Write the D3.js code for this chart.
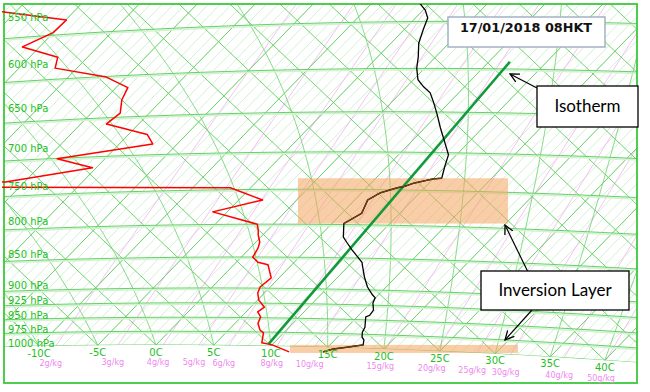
<!DOCTYPE html>
<html><head><meta charset="utf-8">
<script src="https://cdn.jsdelivr.net/npm/d3@7"></script>
<style>body{margin:0;background:#fff}svg{display:block}</style>
</head><body>
<svg id="c" width="650" height="392"></svg>
<script>
// ---------------- data ----------------
const isobarLevels = [550, 600, 650, 700, 750, 800, 850, 900, 925, 950, 975, 1000];
const tempTicks = [-10, -5, 0, 5, 10, 15, 20, 25, 30, 35, 40];
const mixRatios = [2, 3, 4, 5, 6, 8, 10, 15, 20, 25, 30, 40, 50];
const tempP = [532, 542, 550, 562, 576, 591, 603, 616, 624, 631, 643, 657, 673, 692, 707, 723, 738, 739, 742, 745, 749, 751, 758, 768, 787, 802, 822, 830, 842, 853, 861, 869, 885, 901, 914, 919, 928, 940, 949, 952, 970, 979, 988, 993, 1002, 1006, 1010, 1015];
const tempT = [-6.2, -4.6, -3.7, -3.1, -2.35, -1.2, -0.4, 0.7, 1.8, 2.9, 4.1, 5.4, 6.8, 8.5, 9.8, 10.5, 11.2, 10.5, 9.8, 9.1, 8.6, 8.1, 7.0, 6.5, 7.1, 6.4, 7.5, 8.25, 9.4, 10.5, 11.3, 11.8, 12.8, 13.9, 15.0, 15.5, 15.75, 16.4, 16.5, 16.3, 17.1, 17.3, 17.7, 18.1, 18.45, 17.3, 16.1, 15.5];
const dewP = [541, 552, 565, 580, 591, 603, 613, 625, 639, 655, 668, 681, 693, 712, 724, 743, 749, 751, 768, 785, 803, 812, 819, 830, 839, 853, 861, 865, 886, 901, 911, 923, 935, 943, 952, 963, 975, 980, 998, 1002, 1015];
const dewT = [-44.1, -35.5, -35.6, -37.1, -33.1, -32.4, -27.1, -24.3, -23.8, -22.8, -23.1, -18.6, -17.3, -24.5, -20.6, -27.1, -60, -6.7, -2.8, -6.2, -1.2, -0.6, -0.2, 0.55, 0.9, 1.2, 2.1, 3.2, 4.6, 4.4, 4.7, 5.4, 6.5, 6.3, 7.0, 7.3, 8.05, 8.6, 9.3, 10.4, 12.5];
const inversionTop = [738, 1002];
const inversionBase = [802, 1017];
const isothermAnnotT = [10, 7.3];
const isothermAnnotP = [1000, 596];
const titleText = "17/01/2018 08HKT";

// ---------------- layout ----------------
const frame = {x0: 4, y0: 4, x1: 637, y1: 383};
const svg = d3.select("#c");

// tephigram background projection (theta-like coordinate)
const KAP = 0.346;
const TX0 = 156, TY0 = 345, TA = 6.03, TB = 1519, TD = 5.73, TE = -1565;
const tephTL = (T, L) => [TX0 + TA * T + TB * L, TY0 + TD * T + TE * L];
const Lof = (T, p) => Math.log((T + 273.15) / 273.15) + KAP * Math.log(1000 / p);
const teph = (T, p) => tephTL(T, Lof(T, p));

// data projection: log-p vertical with skewed temperature
const xT = d3.scaleLinear().domain([-10, 40]).range([42.7, 607.7]);
const yP = d3.scaleLog().domain([1000, 550]).range([343.8, 18.0]);
const SKEW = 525 / 545;
const proj = (T, p) => [xT(T) + SKEW * (yP(1000) - yP(p)), yP(p)];

const line = d3.line();
const defs = svg.append("defs");
defs.append("clipPath").attr("id", "frameClip").append("rect")
  .attr("x", frame.x0).attr("y", frame.y0).attr("width", frame.x1 - frame.x0).attr("height", frame.y1 - frame.y0);
defs.append("clipPath").attr("id", "dataClip").append("rect")
  .attr("x", 2).attr("y", frame.y0).attr("width", 636).attr("height", frame.y1 - frame.y0);
const basePoly = [[-100, -100], [800, -100]];
for (let T = 60; T >= -30; T -= 1) basePoly.push(teph(T, 1000));
defs.append("clipPath").attr("id", "gridClip").append("path").attr("d", line(basePoly) + "Z");

const gOuter = svg.append("g").attr("clip-path", "url(#frameClip)");
const grid = gOuter.append("g").attr("clip-path", "url(#gridClip)");

// 1-degree isotherm hatch
for (let T = -50; T <= 50; T++) {
  const L0 = Math.log((T + 273.15) / 273.15);
  grid.append("path").attr("d", line([tephTL(T, L0 - 0.05), tephTL(T, L0 + 0.6)]))
    .attr("stroke", "#bdebbd").attr("stroke-width", 0.7).attr("fill", "none");
}
// mixing ratio lines
const tdOf = (w, p) => { const e = w * p / (622 + w); const l = Math.log(e / 6.112); return 243.5 * l / (17.67 - l); };
mixRatios.forEach(w => {
  const pts = [];
  for (let p = 1040; p >= 380; p -= 10) pts.push(teph(tdOf(w, p), p));
  grid.append("path").attr("d", line(pts)).attr("stroke", "#f2b2f2").attr("stroke-width", 0.8).attr("fill", "none");
});
// 5-degree isotherms
for (let T = -50; T <= 50; T += 5) {
  const L0 = Math.log((T + 273.15) / 273.15);
  grid.append("path").attr("d", line([tephTL(T, L0 - 0.05), tephTL(T, L0 + 0.6)]))
    .attr("stroke", "#5ccf5c").attr("stroke-width", 0.9).attr("fill", "none");
}
// dry adiabats
for (let T0 = -20; T0 <= 95; T0 += 5) {
  const L = Math.log((T0 + 273.15) / 273.15);
  grid.append("path").attr("d", line([tephTL(-120, L), tephTL(T0 + 10, L)]))
    .attr("stroke", "#5ccf5c").attr("stroke-width", 0.9).attr("fill", "none");
}
// saturated adiabats
function dTdlnp(TK, p) {
  const Tc = TK - 273.15;
  const es = 6.112 * Math.exp(17.67 * Tc / (Tc + 243.5));
  const rs = 0.622 * es / (p - es);
  const Lv = 2.501e6, cp = 1005.7, Rd = 287.04;
  return (KAP * TK + Lv * rs / cp) / (1 + Lv * Lv * rs * 0.622 / (cp * Rd * TK * TK));
}
for (let T0 = -10; T0 <= 45; T0 += 5) {
  const pts = [];
  let TK = T0 + 273.15, lnp = Math.log(1000);
  const h = -0.004;
  while (lnp > Math.log(380)) {
    pts.push(teph(TK - 273.15, Math.exp(lnp)));
    const k1 = dTdlnp(TK, Math.exp(lnp));
    const k2 = dTdlnp(TK + h * k1 / 2, Math.exp(lnp + h / 2));
    TK += h * k2; lnp += h;
  }
  grid.append("path").attr("d", line(pts)).attr("stroke", "#74d674").attr("stroke-width", 0.9).attr("fill", "none");
}
// isobars
isobarLevels.forEach(p => {
  const pts = [];
  for (let T = -70; T <= 70; T += 1) pts.push(teph(T, p));
  grid.append("path").attr("d", line(pts)).attr("stroke", "#d3f2d3").attr("stroke-width", 1.6)
    .attr("fill", "none").attr("transform", "translate(0,1.5)");
  grid.append("path").attr("d", line(pts)).attr("stroke", "#66cf66").attr("stroke-width", 1)
    .attr("fill", "none");
});

// inversion boxes
const boxX = [[298, 508], [290, 518]];
inversionTop.forEach((pt, i) => {
  gOuter.append("rect").attr("x", boxX[i][0]).attr("width", boxX[i][1] - boxX[i][0])
    .attr("y", yP(pt)).attr("height", yP(inversionBase[i]) - yP(pt))
    .attr("fill", "#f4a460").attr("fill-opacity", 0.55);
});

// frame
svg.append("rect").attr("x", frame.x0).attr("y", frame.y0).attr("width", frame.x1 - frame.x0).attr("height", frame.y1 - frame.y0)
  .attr("fill", "none").attr("stroke", "#3cc83c").attr("stroke-width", 1.8);

// data
const gData = svg.append("g").attr("clip-path", "url(#dataClip)");
gData.append("path").attr("d", line(isothermAnnotT.map((t, i) => proj(t, isothermAnnotP[i]))))
  .attr("stroke", "#109a3c").attr("stroke-width", 2.6).attr("fill", "none");
gData.append("path").attr("d", line(dewT.map((t, i) => proj(t, dewP[i]))))
  .attr("stroke", "#ff0000").attr("stroke-width", 1.5).attr("fill", "none").attr("stroke-linejoin", "round");
const tempPts = tempT.map((t, i) => ({t, p: tempP[i]}));
gData.append("path").attr("d", line(tempPts.map(d => proj(d.t, d.p))))
  .attr("stroke", "#000").attr("stroke-width", 1.3).attr("fill", "none");
inversionTop.forEach((pt, i) => {
  const seg = tempPts.filter(d => d.p >= pt && d.p <= inversionBase[i]);
  gData.append("path").attr("d", line(seg.map(d => proj(d.t, d.p))))
    .attr("stroke", "#6e3d12").attr("stroke-width", 1.4).attr("fill", "none");
});

// axis labels
const font = "'DejaVu Sans', Verdana, sans-serif";
isobarLevels.forEach(p => {
  svg.append("text").attr("x", 8).attr("y", yP(p) + 3).text(p + " hPa")
    .attr("font-family", font).attr("font-size", 10).attr("fill", "#1fbf1f");
});
tempTicks.forEach(T => {
  const [x, y] = teph(T, 1000);
  svg.append("text").attr("x", x).attr("y", y + 7).attr("dy", "0.35em").attr("text-anchor", "middle")
    .text(T + "C").attr("font-family", font).attr("font-size", 10).attr("fill", "#1fbf1f");
});
mixRatios.forEach(w => {
  const [x, y] = teph(tdOf(w, 1000), 1000);
  svg.append("text").attr("x", x - 5).attr("y", y + 17.5).attr("dy", "0.35em").attr("text-anchor", "middle")
    .text(w + "g/kg").attr("font-family", font).attr("font-size", 8).attr("fill", "#ee88ee");
});

// annotations
defs.append("marker").attr("id", "arr").attr("viewBox", "0 0 10 10").attr("refX", 9).attr("refY", 5)
  .attr("markerWidth", 10).attr("markerHeight", 10).attr("markerUnits", "userSpaceOnUse").attr("orient", "auto")
  .append("path").attr("d", "M0,0.5 L9,5 L0,9.5").attr("fill", "none").attr("stroke", "#000").attr("stroke-width", 1.3);
const arrows = [[[537, 88], [510, 74]], [[528, 272], [505, 225]], [[532, 310], [505, 340]]];
arrows.forEach(a => svg.append("path").attr("d", line(a)).attr("stroke", "#000").attr("stroke-width", 1.2)
  .attr("fill", "none").attr("marker-end", "url(#arr)"));

svg.append("rect").attr("x", 448).attr("y", 17).attr("width", 157).attr("height", 30)
  .attr("fill", "#fff").attr("stroke", "#a3b1c6").attr("stroke-width", 1.5);
svg.append("text").attr("x", 526).attr("y", 32).attr("text-anchor", "middle").text(titleText)
  .attr("font-family", font).attr("font-weight", "bold").attr("font-size", 12.8).attr("fill", "#111");

const boxes = [{x: 537, y: 86, w: 101, h: 41, t: "Isotherm"}, {x: 481, y: 271, w: 148, h: 39, t: "Inversion Layer"}];
boxes.forEach(b => {
  svg.append("rect").attr("x", b.x).attr("y", b.y).attr("width", b.w).attr("height", b.h)
    .attr("fill", "#fff").attr("stroke", "#000").attr("stroke-width", 1.3);
  svg.append("text").attr("x", b.x + b.w / 2).attr("y", b.y + b.h / 2).attr("dy", "0.35em").attr("text-anchor", "middle")
    .text(b.t).attr("font-family", "Lato, 'Open Sans', sans-serif").attr("font-size", 17).attr("fill", "#000");
});
</script>
</body></html>
